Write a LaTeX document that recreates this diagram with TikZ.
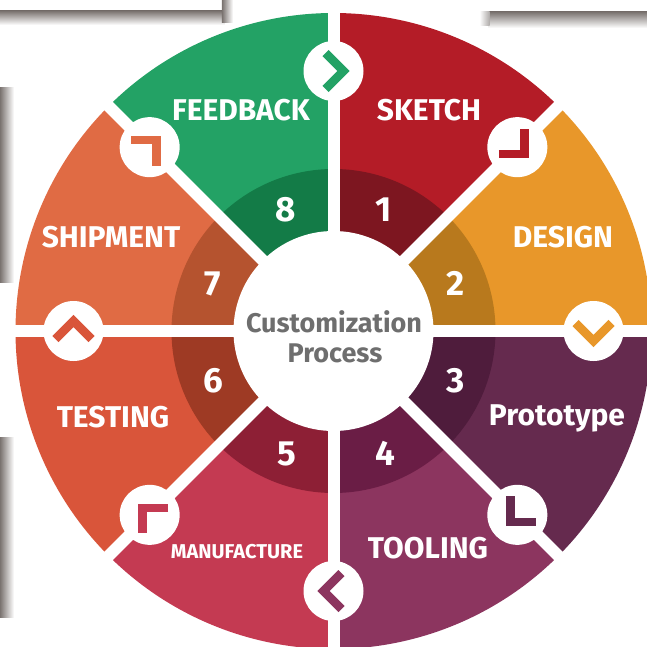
\documentclass[tikz,border=0pt]{standalone}
\usepackage{fontspec}
\setmainfont{Fira Sans}
\definecolor{cFeed}{HTML}{23A265}
\definecolor{cFeedD}{HTML}{137B47}
\definecolor{cSketch}{HTML}{B41C27}
\definecolor{cSketchD}{HTML}{7D1620}
\definecolor{cDesign}{HTML}{E8972A}
\definecolor{cDesignD}{HTML}{B8791D}
\definecolor{cProto}{HTML}{652A4E}
\definecolor{cProtoD}{HTML}{4F1C3C}
\definecolor{cTool}{HTML}{8C355F}
\definecolor{cToolD}{HTML}{6A1D45}
\definecolor{cManu}{HTML}{C43A52}
\definecolor{cManuD}{HTML}{8D1F35}
\definecolor{cTest}{HTML}{D9553A}
\definecolor{cTestD}{HTML}{9E3A24}
\definecolor{cShip}{HTML}{E06B44}
\definecolor{cShipD}{HTML}{B5532F}
\definecolor{cText}{HTML}{6E6E6E}
\definecolor{cShadow}{HTML}{7A7370}
\begin{document}
\begin{tikzpicture}[x=1pt,y=1pt,
  lbl/.style={text=white, font=\bfseries\fontsize{30}{30}\selectfont, anchor=base, inner sep=0pt},
  smalllbl/.style={text=white, font=\bfseries\fontsize{20}{20}\selectfont, anchor=base, inner sep=0pt},
  num/.style={text=white, font=\bfseries\fontsize{35}{35}\selectfont, anchor=base, inner sep=0pt},
  ctr/.style={text=cText, font=\bfseries\fontsize{27}{27}\selectfont, anchor=base, inner sep=0pt},
  gapline/.style={white, line width=12pt},
  chev/.style={line width=8.5pt, miter limit=10}]
\useasboundingbox (-333.5,-315) rectangle (313.5,331);
% page artefacts (shadows)
\shade[top color=cShadow, bottom color=white] (-333.5,320) rectangle (-108.5,306);
\shade[left color=cShadow, right color=white] (-111.5,331) rectangle (-100.5,308);
\shade[top color=cShadow, bottom color=white] (154.5,319) rectangle (313.5,303);
\shade[left color=white, right color=cShadow!60] (146,319) rectangle (156,305);
\shade[left color=cShadow, right color=white] (-333.5,243) rectangle (-319.5,49);
\shade[left color=cShadow, right color=white] (-333.5,-106) rectangle (-319.5,-286);
% sectors
\foreach \a/\c/\d in {45/cSketch/cSketchD, 0/cDesign/cDesignD, -45/cProto/cProtoD, -90/cTool/cToolD, -135/cManu/cManuD, 180/cTest/cTestD, 135/cShip/cShipD, 90/cFeed/cFeedD}{
  \fill[\c] (0,0) -- (\a:318pt) arc[start angle=\a, delta angle=45, radius=318pt] -- cycle;
  \fill[\d] (0,0) -- (\a:162pt) arc[start angle=\a, delta angle=45, radius=162pt] -- cycle;
}
% white gaps
\foreach \a in {0,45,90,135}{
  \draw[gapline] (\a:319pt) -- (\a:-319pt);
}
\fill[white] (0,0) circle (100pt);
% icons
\foreach \a/\c in {90/cFeed, 45/cSketch, 0/cDesign, -45/cProto, -90/cTool, -135/cManu, 180/cTest, 135/cShip}{
  \fill[white] (\a:260pt) circle (30pt);
  \begin{scope}[shift={(\a:260pt)}, rotate=\a-90]
    \draw[chev, \c] (-8,-18) -- (10,0) -- (-8,18);
  \end{scope}
}
% labels
\node[lbl] (feedback) at (-92.5,211) {FEEDBACK};
\node[lbl] (sketch) at (95.5,211) {SKETCH};
\node[lbl] (shipment) at (-222.5,84) {SHIPMENT};
\node[lbl] (design) at (229.5,84) {DESIGN};
\node[lbl] (testing) at (-220.5,-96) {TESTING};
\node[lbl] (prototype) at (223.5,-94) {Prototype};
\node[smalllbl] (manufacture) at (-96.5,-227) {MANUFACTURE};
\node[lbl] (tooling) at (94.5,-227) {TOOLING};
% numbers
\node[num] (n8) at (-47.5,110) {8};
\node[num] (n1) at (50.5,110) {1};
\node[num] (n7) at (-120.5,36) {7};
\node[num] (n2) at (122.5,36) {2};
\node[num] (n6) at (-120.5,-61) {6};
\node[num] (n3) at (122.5,-61) {3};
\node[num] (n5) at (-46.5,-134) {5};
\node[num] (n4) at (51.5,-134) {4};
% centre
\node[ctr] (t1) at (0.5,-1) {Customization};
\node[ctr] (t2) at (1.5,-31) {Process};
\end{tikzpicture}
\end{document}
